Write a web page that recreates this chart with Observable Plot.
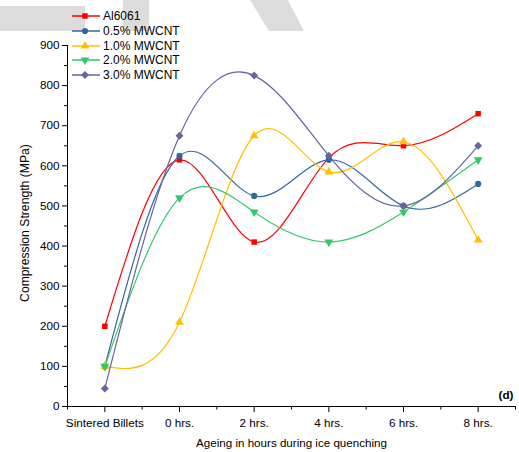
<!DOCTYPE html>
<html>
<head>
<meta charset="utf-8">
<script src="https://cdn.jsdelivr.net/npm/d3@7"></script>
<script src="https://cdn.jsdelivr.net/npm/@observablehq/plot@0.6"></script>
<style>
  html, body { margin: 0; padding: 0; background: #fff; }
  #wrap { position: relative; width: 519px; height: 452px; overflow: hidden; font-family: "Liberation Sans", Arial, sans-serif; }
  .wm { position: absolute; background: #dcdcdc; }
  #chart { position: absolute; left: 0; top: 0; }
  #legend { position: absolute; left: 72px; top: 9px; font-size: 12px; color: #000; }
  #legend .row { display: flex; align-items: center; height: 14.7px; }
  #legend svg { display: block; margin-right: 3px; }
</style>
</head>
<body>
<div id="wrap">
  <div class="wm" style="left:0;top:6px;width:85px;height:25px"></div>
  <div class="wm" style="left:123px;top:0;width:26px;height:31px"></div>
  <div class="wm" style="left:250px;top:0;width:54px;height:31px;clip-path:polygon(0 0,70% 0,100% 100%,35% 100%)"></div>
  <div id="chart"></div>
  <div id="legend"></div>
</div>
<script>
// ---- data ----
const categories = ["Sintered Billets", "0 hrs.", "2 hrs.", "4 hrs.", "6 hrs.", "8 hrs."];
const seriesNames = ["Al6061", "0.5% MWCNT", "1.0% MWCNT", "2.0% MWCNT", "3.0% MWCNT"];
const al6061   = [200, 615, 410, 620, 650, 730];
const mwcnt05  = [100, 625, 525, 615, 500, 555];
const mwcnt10  = [100, 210, 675, 585, 660, 415];
const mwcnt20  = [100, 520, 485, 410, 485, 615];
const mwcnt30  = [ 45, 675, 825, 625, 500, 650];
const yTicks = [0, 100, 200, 300, 400, 500, 600, 700, 800, 900];
const colors = ["#ff0000", "#35679b", "#ffc000", "#33c76b", "#65659f"];

const downTriangle = {
  draw(ctx, size) {
    const a = Math.sqrt(4 * size / Math.sqrt(3));
    const h = a * Math.sqrt(3) / 2;
    ctx.moveTo(0, 2 * h / 3);
    ctx.lineTo(-a / 2, -h / 3);
    ctx.lineTo(a / 2, -h / 3);
    ctx.closePath();
  }
};
const symbols = [d3.symbolSquare, d3.symbolCircle, d3.symbolTriangle, downTriangle, d3.symbolDiamond2];
const sizes = [30, 30, 34, 34, 40];

const seriesValues = [al6061, mwcnt05, mwcnt10, mwcnt20, mwcnt30];
const rows = [];
seriesValues.forEach((vals, s) => vals.forEach((v, i) => rows.push({series: seriesNames[s], s, i, v})));

const marks = [];
seriesNames.forEach((name, s) => {
  const d = rows.filter(r => r.s === s);
  marks.push(Plot.line(d, {x: "i", y: "v", curve: "natural", stroke: colors[s], strokeWidth: 1.2}));
});
seriesNames.forEach((name, s) => {
  const d = rows.filter(r => r.s === s);
  marks.push(Plot.dot(d, {x: "i", y: "v", symbol: symbols[s], fill: colors[s], stroke: "none", r: Math.sqrt(sizes[s] / Math.PI)}));
});

const minorX = d3.range(categories.length + 1).map(k => k - 0.5);
const minorY = yTicks.slice(0, -1).map(t => t + 50);

const chart = Plot.plot({
  width: 519,
  height: 452,
  marginLeft: 67,
  marginRight: 4,
  marginTop: 45,
  marginBottom: 46,
  style: {fontFamily: "'Liberation Sans', Arial, sans-serif", fontSize: "11.7px", background: "transparent", color: "#000"},
  x: {type: "linear", domain: [-0.5, categories.length - 0.5]},
  y: {domain: [0, 900]},
  marks: [
    Plot.axisY({ticks: yTicks, tickSize: 5, tickPadding: 3, label: null, fontSize: 11.7}),
    Plot.axisY({ticks: minorY, tickSize: 3, text: null, label: null}),
    Plot.axisX({ticks: d3.range(categories.length), tickFormat: i => categories[i], tickSize: 6, tickPadding: 6, label: null, fontSize: 11.7}),
    Plot.axisX({ticks: minorX, tickSize: 3.5, text: null, label: null}),
    Plot.ruleX([-0.5], {stroke: "#000", strokeWidth: 1}),
    Plot.ruleY([0], {stroke: "#000", strokeWidth: 1}),
    ...marks,
    Plot.text(["Compression Strength (MPa)"], {frameAnchor: "left", textAnchor: "middle", lineAnchor: "middle", dx: -42, dy: -3, rotate: -90, fontSize: 12.2}),
    Plot.text(["Ageing in hours during ice quenching"], {frameAnchor: "bottom", textAnchor: "middle", lineAnchor: "middle", dy: 37, fontSize: 11.6}),
    Plot.text(["(d)"], {frameAnchor: "bottom-right", textAnchor: "end", lineAnchor: "middle", dx: -2, dy: -11, fontWeight: "bold", fontSize: 11.7})
  ]
});
document.getElementById("chart").appendChild(chart);

// ---- legend ----
const legend = d3.select("#legend");
seriesNames.forEach((name, s) => {
  const row = legend.append("div").attr("class", "row");
  const svg = row.append("svg").attr("width", 28).attr("height", 12);
  svg.append("line").attr("x1", 0).attr("x2", 28).attr("y1", 6).attr("y2", 6)
     .attr("stroke", colors[s]).attr("stroke-width", 1.5);
  svg.append("path").attr("transform", "translate(13,6)")
     .attr("d", d3.symbol(symbols[s], sizes[s])()).attr("fill", colors[s]);
  row.append("span").text(name);
});
</script>
</body>
</html>
